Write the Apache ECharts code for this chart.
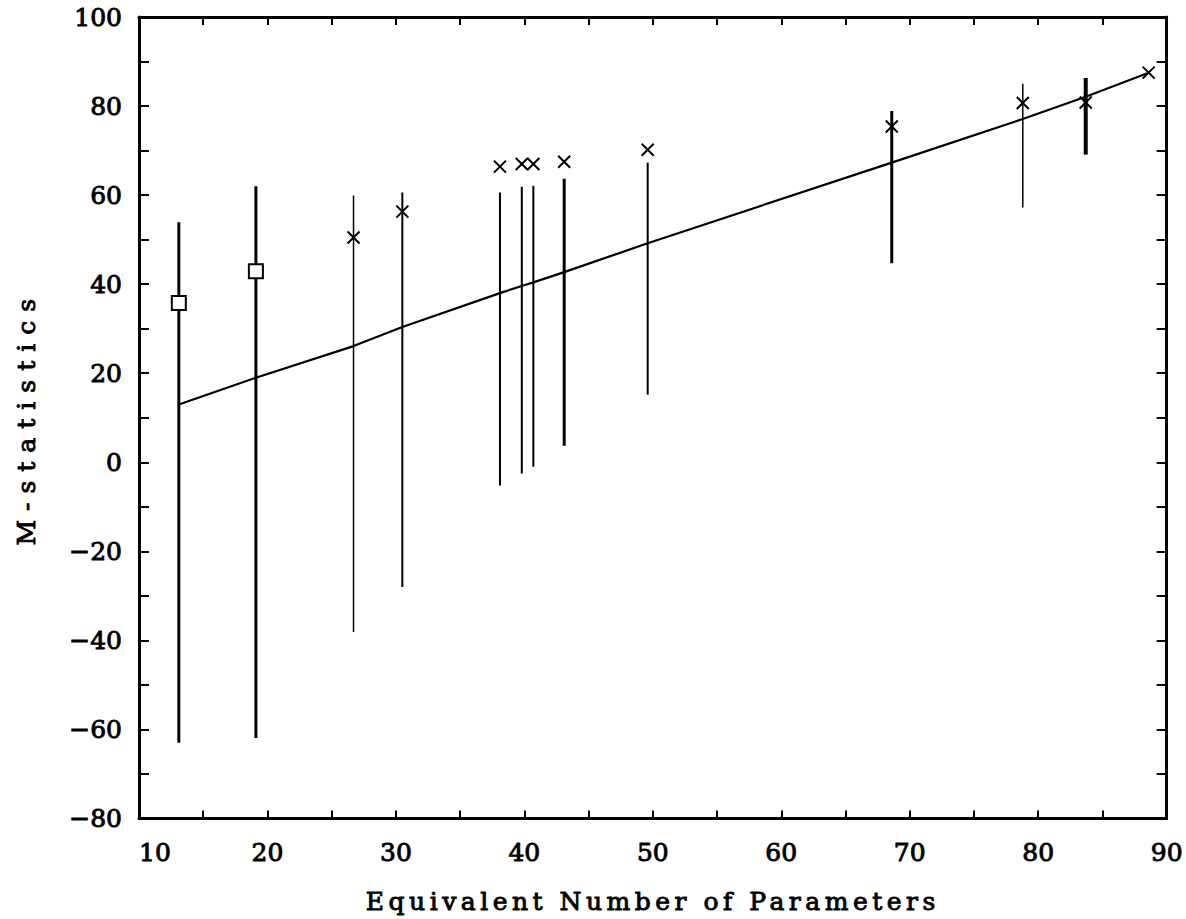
<!DOCTYPE html>
<html>
<head>
<meta charset="utf-8">
<script src="https://cdn.jsdelivr.net/npm/echarts@6/dist/echarts.min.js"></script>
<style>
html, body { margin: 0; padding: 0; background: #fff; }
#chart { width: 1186px; height: 919px; }
#chart text[style*="Liberation Serif"] { letter-spacing: 4.5px; }
#chart text[style*="Liberation Mono"] { letter-spacing: 9px; }
</style>
</head>
<body>
<div id="chart"></div>
<script>
// ---- data ----
const xTitle = 'Equivalent Number of Parameters';
const yTitle = 'M-statistics';

// vertical interval bars
const barX    = [13.1, 19.1, 26.7, 30.5, 38.1, 39.8, 40.7, 43.1, 49.6, 68.6, 78.8, 83.7];
const barLow  = [-63.0, -61.9, -38.1, -28.0, -5.2, -2.5, -1.0, 3.7, 15.2, 44.7, 57.2, 69.1];
const barHigh = [53.9, 62.0, 59.9, 60.6, 60.6, 61.9, 62.1, 63.7, 67.3, 78.9, 85.0, 86.3];

// square markers
const squareX = [13.1, 19.1];
const squareY = [35.8, 42.9];

// cross markers
const crossX = [26.7, 30.5, 38.1, 39.8, 40.7, 43.1, 49.6, 68.6, 78.8, 83.7, 88.6];
const crossY = [50.5, 56.3, 66.4, 67.0, 67.0, 67.5, 70.2, 75.4, 80.7, 80.8, 87.5];

// reference line
const fitX = [13.1, 19.1, 26.7, 30.5, 38.1, 39.8, 40.7, 43.1, 49.6, 68.6, 78.8, 83.7, 88.6];
const fitY = [13.0, 19.0, 26.1, 30.4, 38.0, 39.6, 40.4, 42.7, 49.2, 67.3, 77.1, 82.1, 87.5];

// styling (stroke widths of the interval bars)
const barStroke = [3, 3, 1.5, 2, 2, 2, 2, 3, 2, 3, 1.5, 4];

const FONT = 'DejaVu Serif';
const fmtY = v => (v < 0 ? '\u2212' + Math.abs(v) : String(v));
const heavy = { textBorderColor: '#000', textBorderWidth: 0.9 };

function baseX(pos, withLabels) {
  return {
    type: 'value', position: pos, min: 10, max: 90, interval: 10,
    axisLine: { show: true, onZero: false, lineStyle: { color: '#000', width: 3 } },
    axisTick: { show: true, inside: true, length: 8, lineStyle: { color: '#000', width: 2 } },
    minorTick: { show: true, splitNumber: 2, length: 8, lineStyle: { color: '#000', width: 2 } },
    splitLine: { show: false }, minorSplitLine: { show: false },
    axisLabel: withLabels ? Object.assign({ show: true, color: '#000', fontFamily: FONT, fontSize: 25, margin: 21, alignMinLabel: 'left' }, heavy) : { show: false }
  };
}
function baseY(pos, withLabels) {
  return {
    type: 'value', position: pos, min: -80, max: 100, interval: 20,
    axisLine: { show: true, onZero: false, lineStyle: { color: '#000', width: 3 } },
    axisTick: { show: true, inside: true, length: 10, lineStyle: { color: '#000', width: 2 } },
    minorTick: { show: true, splitNumber: 2, length: 10, lineStyle: { color: '#000', width: 2 } },
    splitLine: { show: false }, minorSplitLine: { show: false },
    axisLabel: withLabels ? Object.assign({ show: true, color: '#000', fontFamily: FONT, fontSize: 25, margin: 17, formatter: fmtY }, heavy) : { show: false }
  };
}

const xBottom = Object.assign(baseX('bottom', true), {
  name: xTitle, nameLocation: 'middle', nameGap: 70,
  nameTextStyle: Object.assign({ color: '#000', fontFamily: FONT + ', Liberation Serif', fontSize: 25 }, heavy)
});
const yLeft = Object.assign(baseY('left', true), {
  name: yTitle, nameLocation: 'middle', nameGap: 100,
  nameTextStyle: Object.assign({ color: '#000', fontFamily: FONT + ', Liberation Mono', fontSize: 25 }, heavy)
});

const chart = echarts.init(document.getElementById('chart'), null, { renderer: 'svg' });
chart.setOption({
  animation: false,
  backgroundColor: '#fff',
  grid: { left: 139, right: 18, top: 17, bottom: 98, containLabel: false },
  xAxis: [xBottom, baseX('top', false)],
  yAxis: [yLeft, baseY('right', false)],
  series: [
    {
      type: 'custom', xAxisIndex: 0, yAxisIndex: 0, z: 2,
      data: barX.map((x, i) => [x, barLow[i], barHigh[i]]),
      renderItem: (params, api) => {
        const p1 = api.coord([api.value(0), api.value(1)]);
        const p2 = api.coord([api.value(0), api.value(2)]);
        return {
          type: 'line',
          shape: { x1: p1[0], y1: p1[1], x2: p2[0], y2: p2[1] },
          style: { stroke: '#000', lineWidth: barStroke[params.dataIndex] }
        };
      }
    },
    {
      type: 'line', xAxisIndex: 0, yAxisIndex: 0, z: 3,
      data: fitX.map((x, i) => [x, fitY[i]]),
      showSymbol: false, symbol: 'none',
      lineStyle: { color: '#000', width: 2.2 }
    },
    {
      type: 'scatter', xAxisIndex: 0, yAxisIndex: 0, z: 5,
      data: squareX.map((x, i) => [x, squareY[i]]),
      symbol: 'rect', symbolSize: 14,
      itemStyle: { color: '#fff', borderColor: '#000', borderWidth: 2, opacity: 1 }
    },
    {
      type: 'scatter', xAxisIndex: 0, yAxisIndex: 0, z: 5,
      data: crossX.map((x, i) => [x, crossY[i]]),
      symbol: 'path://M0,0L10,10M10,0L0,10', symbolSize: 12,
      itemStyle: { color: 'none', borderColor: '#000', borderWidth: 2, opacity: 1 }
    }
  ]
});
</script>
</body>
</html>
